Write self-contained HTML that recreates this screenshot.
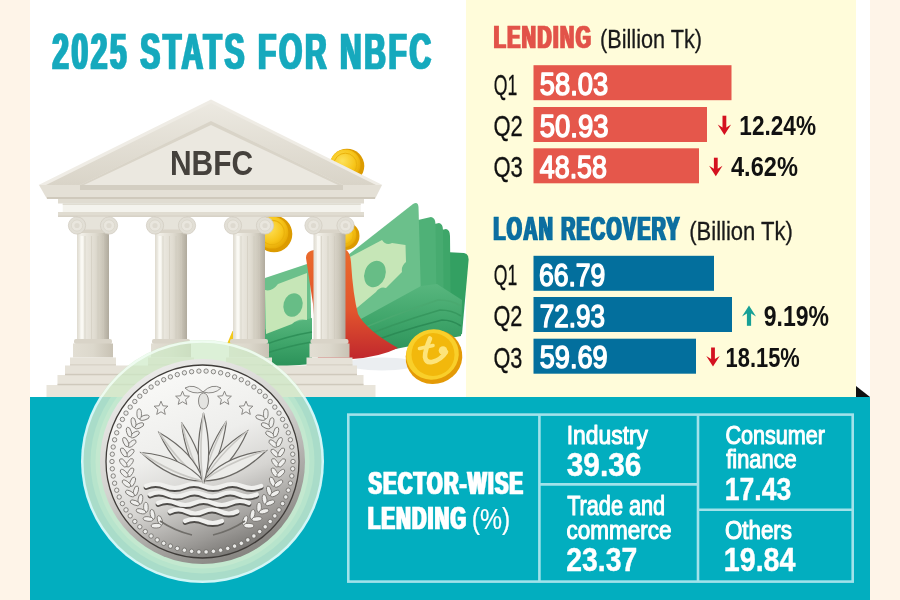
<!DOCTYPE html>
<html><head><meta charset="utf-8"><title>2025 Stats for NBFC</title>
<style>html,body{margin:0;padding:0;width:900px;height:600px;overflow:hidden;background:#fff}svg{display:block}text{font-family:"Liberation Sans",sans-serif}</style>
</head><body>
<svg width="900" height="600" viewBox="0 0 900 600">
<defs>
<linearGradient id="shaft" x1="0" x2="1" y1="0" y2="0">
 <stop offset="0" stop-color="#dedacf"/><stop offset="0.12" stop-color="#f2f0e9"/><stop offset="0.3" stop-color="#e9e6dd"/>
 <stop offset="0.55" stop-color="#e0dcd1"/><stop offset="0.78" stop-color="#cec9bc"/><stop offset="1" stop-color="#b0aa9d"/>
</linearGradient>
<linearGradient id="base" x1="0" x2="1" y1="0" y2="0">
 <stop offset="0" stop-color="#e2ded3"/><stop offset="0.5" stop-color="#dcd8cc"/><stop offset="1" stop-color="#c8c2b4"/>
</linearGradient>
<linearGradient id="rake" x1="0" x2="0" y1="0" y2="1">
 <stop offset="0" stop-color="#ece9e1"/><stop offset="1" stop-color="#d9d4c8"/>
</linearGradient>
<linearGradient id="wallet" x1="0" x2="0" y1="0" y2="1">
 <stop offset="0" stop-color="#ea6a2c"/><stop offset="0.55" stop-color="#e2552d"/><stop offset="1" stop-color="#c0272d"/>
</linearGradient>
<linearGradient id="billstack" x1="0" x2="0" y1="0" y2="1">
 <stop offset="0" stop-color="#58b67e"/><stop offset="0.5" stop-color="#3fa56a"/><stop offset="1" stop-color="#2a9058"/>
</linearGradient>
<linearGradient id="billdark" x1="0" x2="0" y1="0" y2="1">
 <stop offset="0" stop-color="#4aae72"/><stop offset="1" stop-color="#2f9459"/>
</linearGradient>
<radialGradient id="goldg" cx="0.4" cy="0.38" r="0.7">
 <stop offset="0" stop-color="#fde25a"/><stop offset="0.6" stop-color="#f7c51a"/><stop offset="1" stop-color="#e3a300"/>
</radialGradient>
<linearGradient id="coinfield" x1="0.3" x2="0.7" y1="0" y2="1">
 <stop offset="0" stop-color="#fafaf8"/><stop offset="0.4" stop-color="#eeeeec"/><stop offset="0.62" stop-color="#d6d5d2"/><stop offset="0.85" stop-color="#9b9996"/><stop offset="1" stop-color="#6f6d6a"/>
</linearGradient>
<linearGradient id="coinrim" x1="0.25" x2="0.75" y1="0" y2="1">
 <stop offset="0" stop-color="#ececea"/><stop offset="0.45" stop-color="#d3d2cf"/><stop offset="1" stop-color="#7f7d79"/>
</linearGradient>
</defs>
<rect width="900" height="600" fill="#fff"/>
<rect x="0" y="0" width="30" height="600" fill="#fef4e8"/>
<rect x="870" y="0" width="30" height="600" fill="#fef4e8"/>
<rect x="466" y="0" width="390" height="397" fill="#fffcda"/>
<polygon points="856,386 856,397 870,397" fill="#111"/>
<g><ellipse cx="382" cy="364" rx="36" ry="6.5" fill="#e6eaee" opacity="0.8"/><path d="M445,252 L464,253 Q469,254 468.6,260 L462,334 L445,340 Z" fill="#33a062"/><path d="M432,232 L446,229 Q450,230 450,236 L451,334 L432,342 Z" fill="#3ea669"/><path d="M426,226 L439,223 Q443,224 443,230 L444,334 L426,344 Z" fill="#47ab70"/><path d="M418,220 L431,217 Q435.5,218 435.5,224 L437,336 L418,346 Z" fill="#4fb177"/><path d="M348,255 L413,204 Q418,201 418.5,207 L421,298 L348,338 Z" fill="#6bc08b"/><path d="M348,326 L421,286 L437,284 L462,300 L461,336 L350,358 Z" fill="url(#billstack)"/><path d="M350,334 Q390,316 438,300 Q452,300 461,306" fill="none" stroke="#4aa970" stroke-width="1.6"/><path d="M350,342 Q392,324 440,310 Q452,310 461,316" fill="none" stroke="#37985f" stroke-width="1.6"/><path d="M350,350 Q394,332 442,320 Q452,320 461,326" fill="none" stroke="#2c8c56" stroke-width="1.6"/><path d="M348,258 L382,240 Q386,246 392,243 L405.5,245 L406,262 Q401,266 402,272 L386,288 Q380,286 376,292 L352,312 L348,312 Z" fill="#c6e6b7"/><ellipse cx="375" cy="274" rx="10.5" ry="13.5" transform="rotate(20 375 274)" fill="#67bd86"/><path d="M262,279 L310,263 L312,362 L262,368 Z" fill="#6bc08b"/><path d="M262,330 L312,318 L312,364 L262,368 Z" fill="url(#billstack)"/><path d="M264,345 Q288,336 312,332 M264,354 Q288,346 312,342" fill="none" stroke="#2f9159" stroke-width="1.5"/><path d="M265,290 Q272,292 278,284 L307,273 L307,320 Q298,318 292,324 L266,334 Z" fill="#c6e6b7"/><ellipse cx="293" cy="305" rx="9.5" ry="12" transform="rotate(15 293 305)" fill="#67bd86"/><path d="M306,258 Q306,251 314,250 L346,250 Q350,252 351,262 Q353,295 358,314 Q366,330 398,348 Q380,357 352,359 L318,359 L313,304 Z" fill="url(#wallet)"/><circle cx="347" cy="166" r="17.3" fill="#dc9b00"/><circle cx="345.3" cy="164.6" r="15.2" fill="url(#goldg)"/><circle cx="345.3" cy="164.6" r="11.4" fill="none" stroke="#eab20c" stroke-width="1.0"/><circle cx="274" cy="234" r="18.3" fill="#dc9b00"/><circle cx="272.2" cy="232.5" r="16.1" fill="url(#goldg)"/><circle cx="272.2" cy="232.5" r="12.1" fill="none" stroke="#eab20c" stroke-width="1.1"/><circle cx="345.5" cy="236" r="14" fill="#dc9b00"/><circle cx="344.1" cy="234.9" r="12.3" fill="url(#goldg)"/><circle cx="344.1" cy="234.9" r="9.2" fill="none" stroke="#eab20c" stroke-width="0.8"/><path d="M227,344 L232.5,331 Q235,331 234.5,336 L233,346 Z" fill="#f2c81a"/><polygon points="211,99.5 38.5,185 382.5,185" fill="#efece5"/><polygon points="211,103 46,185 376,185" fill="url(#rake)"/><polygon points="211,121 80,185 343,185" fill="#ebe8e0"/><polygon points="211,121 80,185 84,185 211,125 338,185 343,185" fill="#d9d4c8"/><polygon points="39,185 47,199 375,199 382,185" fill="#e4e0d6"/><rect x="80" y="185" width="263" height="5" fill="#d3cec2"/><polygon points="47,197 375,197 375,199 47,199" fill="#cfc9bc"/><rect x="58" y="199" width="306" height="4.5" fill="#e0dcd1"/><rect x="62.7" y="203.5" width="298" height="8.5" fill="#f4f3ed"/><rect x="62.7" y="203.5" width="298" height="1.2" fill="#d8d3c7"/><rect x="58" y="212" width="306" height="4.7" fill="#e0dcd1"/><rect x="58" y="215.7" width="306" height="1" fill="#cfc9bc"/><rect x="77" y="230" width="32" height="114" fill="url(#shaft)"/><rect x="80.5" y="236" width="3" height="104" fill="#fbfaf6" opacity="0.85"/><rect x="84.5" y="236" width="1" height="104" fill="#cdc8bb" opacity="0.55"/><rect x="91" y="236" width="1" height="104" fill="#cdc8bb" opacity="0.55"/><rect x="97.5" y="236" width="1" height="104" fill="#cdc8bb" opacity="0.55"/><rect x="103" y="236" width="1" height="104" fill="#cdc8bb" opacity="0.55"/><rect x="74" y="339" width="38" height="5" rx="2" fill="#d9d4c8"/><rect x="73" y="343.5" width="40" height="14" fill="url(#base)"/><rect x="70" y="357.5" width="46" height="8" fill="#e6e2d8"/><rect x="70" y="364.5" width="46" height="1.2" fill="#cdc7ba"/><rect x="76" y="216.7" width="34" height="15.5" rx="2" fill="#e6e3da"/><rect x="77" y="229.5" width="32" height="3.5" fill="#d9d4c8"/><circle cx="77" cy="225.5" r="8.6" fill="#e2dfd6" stroke="#d2cdc1" stroke-width="0.8"/><circle cx="77" cy="225.5" r="5.6" fill="#e9e6de" stroke="#d8d4c9" stroke-width="0.7"/><circle cx="77" cy="225.5" r="2.6" fill="#dedad0"/><circle cx="109" cy="225.5" r="8.6" fill="#e2dfd6" stroke="#d2cdc1" stroke-width="0.8"/><circle cx="109" cy="225.5" r="5.6" fill="#e9e6de" stroke="#d8d4c9" stroke-width="0.7"/><circle cx="109" cy="225.5" r="2.6" fill="#dedad0"/><rect x="155" y="230" width="32" height="114" fill="url(#shaft)"/><rect x="158.5" y="236" width="3" height="104" fill="#fbfaf6" opacity="0.85"/><rect x="162.5" y="236" width="1" height="104" fill="#cdc8bb" opacity="0.55"/><rect x="169" y="236" width="1" height="104" fill="#cdc8bb" opacity="0.55"/><rect x="175.5" y="236" width="1" height="104" fill="#cdc8bb" opacity="0.55"/><rect x="181" y="236" width="1" height="104" fill="#cdc8bb" opacity="0.55"/><rect x="152" y="339" width="38" height="5" rx="2" fill="#d9d4c8"/><rect x="151" y="343.5" width="40" height="14" fill="url(#base)"/><rect x="148" y="357.5" width="46" height="8" fill="#e6e2d8"/><rect x="148" y="364.5" width="46" height="1.2" fill="#cdc7ba"/><rect x="154" y="216.7" width="34" height="15.5" rx="2" fill="#e6e3da"/><rect x="155" y="229.5" width="32" height="3.5" fill="#d9d4c8"/><circle cx="155" cy="225.5" r="8.6" fill="#e2dfd6" stroke="#d2cdc1" stroke-width="0.8"/><circle cx="155" cy="225.5" r="5.6" fill="#e9e6de" stroke="#d8d4c9" stroke-width="0.7"/><circle cx="155" cy="225.5" r="2.6" fill="#dedad0"/><circle cx="187" cy="225.5" r="8.6" fill="#e2dfd6" stroke="#d2cdc1" stroke-width="0.8"/><circle cx="187" cy="225.5" r="5.6" fill="#e9e6de" stroke="#d8d4c9" stroke-width="0.7"/><circle cx="187" cy="225.5" r="2.6" fill="#dedad0"/><rect x="233" y="230" width="32" height="114" fill="url(#shaft)"/><rect x="236.5" y="236" width="3" height="104" fill="#fbfaf6" opacity="0.85"/><rect x="240.5" y="236" width="1" height="104" fill="#cdc8bb" opacity="0.55"/><rect x="247" y="236" width="1" height="104" fill="#cdc8bb" opacity="0.55"/><rect x="253.5" y="236" width="1" height="104" fill="#cdc8bb" opacity="0.55"/><rect x="259" y="236" width="1" height="104" fill="#cdc8bb" opacity="0.55"/><rect x="230" y="339" width="38" height="5" rx="2" fill="#d9d4c8"/><rect x="229" y="343.5" width="40" height="14" fill="url(#base)"/><rect x="226" y="357.5" width="46" height="8" fill="#e6e2d8"/><rect x="226" y="364.5" width="46" height="1.2" fill="#cdc7ba"/><rect x="232" y="216.7" width="34" height="15.5" rx="2" fill="#e6e3da"/><rect x="233" y="229.5" width="32" height="3.5" fill="#d9d4c8"/><circle cx="233" cy="225.5" r="8.6" fill="#e2dfd6" stroke="#d2cdc1" stroke-width="0.8"/><circle cx="233" cy="225.5" r="5.6" fill="#e9e6de" stroke="#d8d4c9" stroke-width="0.7"/><circle cx="233" cy="225.5" r="2.6" fill="#dedad0"/><circle cx="265" cy="225.5" r="8.6" fill="#e2dfd6" stroke="#d2cdc1" stroke-width="0.8"/><circle cx="265" cy="225.5" r="5.6" fill="#e9e6de" stroke="#d8d4c9" stroke-width="0.7"/><circle cx="265" cy="225.5" r="2.6" fill="#dedad0"/><rect x="313.5" y="230" width="32" height="114" fill="url(#shaft)"/><rect x="317.0" y="236" width="3" height="104" fill="#fbfaf6" opacity="0.85"/><rect x="321.0" y="236" width="1" height="104" fill="#cdc8bb" opacity="0.55"/><rect x="327.5" y="236" width="1" height="104" fill="#cdc8bb" opacity="0.55"/><rect x="334.0" y="236" width="1" height="104" fill="#cdc8bb" opacity="0.55"/><rect x="339.5" y="236" width="1" height="104" fill="#cdc8bb" opacity="0.55"/><rect x="310.5" y="339" width="38" height="5" rx="2" fill="#d9d4c8"/><rect x="309.5" y="343.5" width="40" height="14" fill="url(#base)"/><rect x="306.5" y="357.5" width="46" height="8" fill="#e6e2d8"/><rect x="306.5" y="364.5" width="46" height="1.2" fill="#cdc7ba"/><rect x="312.5" y="216.7" width="34" height="15.5" rx="2" fill="#e6e3da"/><rect x="313.5" y="229.5" width="32" height="3.5" fill="#d9d4c8"/><circle cx="313.5" cy="225.5" r="8.6" fill="#e2dfd6" stroke="#d2cdc1" stroke-width="0.8"/><circle cx="313.5" cy="225.5" r="5.6" fill="#e9e6de" stroke="#d8d4c9" stroke-width="0.7"/><circle cx="313.5" cy="225.5" r="2.6" fill="#dedad0"/><circle cx="345.5" cy="225.5" r="8.6" fill="#e2dfd6" stroke="#d2cdc1" stroke-width="0.8"/><circle cx="345.5" cy="225.5" r="5.6" fill="#e9e6de" stroke="#d8d4c9" stroke-width="0.7"/><circle cx="345.5" cy="225.5" r="2.6" fill="#dedad0"/><rect x="65" y="365.5" width="292" height="10" fill="#e6e2d8"/><rect x="57.5" y="375" width="306" height="10.5" fill="#e8e4da"/><rect x="46.5" y="385" width="329" height="12" fill="#e9e5db"/><rect x="65" y="373.8" width="292" height="1.5" fill="#cfc9bc"/><rect x="57.5" y="383.8" width="306" height="1.5" fill="#cfc9bc"/><ellipse cx="434" cy="357" rx="28.5" ry="26.8" transform="rotate(-20 434 357)" fill="#e49a06"/><ellipse cx="432.5" cy="354.5" rx="26.5" ry="25" transform="rotate(-20 432.5 354.5)" fill="#f9cf2a"/><circle cx="433" cy="354.5" r="21.5" fill="#f2b80c"/><path d="M430,338.5 Q425,350 425,357 Q426,363 432,362 Q441,360 446,352" fill="none" stroke="#fde47a" stroke-width="4.6" stroke-linecap="round"/><circle cx="443" cy="350.5" r="4.3" fill="#fde47a"/><path d="M419.5,348.5 L433,345.5" stroke="#fde47a" stroke-width="3.6" stroke-linecap="round"/></g>
<rect x="30" y="397" width="840" height="203" fill="#02aebf"/>
<g><clipPath id="ctop"><rect x="0" y="0" width="900" height="397"/></clipPath><clipPath id="cbot"><rect x="0" y="397" width="900" height="203"/></clipPath><g clip-path="url(#ctop)"><circle cx="202.5" cy="461.5" r="121.5" fill="#cdeac6" fill-opacity="0.7"/><circle cx="202.5" cy="461.5" r="120" fill="none" stroke="#f4fff8" stroke-width="2.5" stroke-opacity="0.8"/></g><g clip-path="url(#cbot)"><circle cx="202.5" cy="461.5" r="121.5" fill="#d2f6f6"/><circle cx="202.5" cy="461.5" r="119" fill="#a9dcc9"/><circle cx="202.5" cy="461.5" r="112" fill="#b7e4cc"/><circle cx="202.5" cy="461.5" r="107" fill="#c3e8cf"/></g><circle cx="202.5" cy="461.5" r="102.5" fill="url(#coinrim)"/><circle cx="202.5" cy="461.5" r="96.5" fill="url(#coinfield)" stroke="#3f3c39" stroke-width="1.3"/><circle cx="293.0" cy="461.5" r="2.2" fill="#ebebe9" stroke="#5f5d59" stroke-width="0.7"/><circle cx="292.7" cy="468.8" r="2.2" fill="#ebebe9" stroke="#5f5d59" stroke-width="0.7"/><circle cx="291.8" cy="476.0" r="2.2" fill="#ebebe9" stroke="#5f5d59" stroke-width="0.7"/><circle cx="290.4" cy="483.2" r="2.2" fill="#ebebe9" stroke="#5f5d59" stroke-width="0.7"/><circle cx="288.3" cy="490.2" r="2.2" fill="#ebebe9" stroke="#5f5d59" stroke-width="0.7"/><circle cx="285.8" cy="497.0" r="2.2" fill="#ebebe9" stroke="#5f5d59" stroke-width="0.7"/><circle cx="282.6" cy="503.6" r="2.2" fill="#ebebe9" stroke="#5f5d59" stroke-width="0.7"/><circle cx="279.0" cy="509.9" r="2.2" fill="#ebebe9" stroke="#5f5d59" stroke-width="0.7"/><circle cx="274.8" cy="515.9" r="2.2" fill="#ebebe9" stroke="#5f5d59" stroke-width="0.7"/><circle cx="270.2" cy="521.5" r="2.2" fill="#ebebe9" stroke="#5f5d59" stroke-width="0.7"/><circle cx="265.2" cy="526.8" r="2.2" fill="#ebebe9" stroke="#5f5d59" stroke-width="0.7"/><circle cx="259.7" cy="531.6" r="2.2" fill="#ebebe9" stroke="#5f5d59" stroke-width="0.7"/><circle cx="253.9" cy="536.0" r="2.2" fill="#ebebe9" stroke="#5f5d59" stroke-width="0.7"/><circle cx="247.8" cy="539.9" r="2.2" fill="#ebebe9" stroke="#5f5d59" stroke-width="0.7"/><circle cx="241.3" cy="543.3" r="2.2" fill="#ebebe9" stroke="#5f5d59" stroke-width="0.7"/><circle cx="234.6" cy="546.1" r="2.2" fill="#ebebe9" stroke="#5f5d59" stroke-width="0.7"/><circle cx="227.7" cy="548.4" r="2.2" fill="#ebebe9" stroke="#5f5d59" stroke-width="0.7"/><circle cx="220.6" cy="550.2" r="2.2" fill="#ebebe9" stroke="#5f5d59" stroke-width="0.7"/><circle cx="213.4" cy="551.3" r="2.2" fill="#ebebe9" stroke="#5f5d59" stroke-width="0.7"/><circle cx="206.1" cy="551.9" r="2.2" fill="#ebebe9" stroke="#5f5d59" stroke-width="0.7"/><circle cx="198.9" cy="551.9" r="2.2" fill="#ebebe9" stroke="#5f5d59" stroke-width="0.7"/><circle cx="191.6" cy="551.3" r="2.2" fill="#ebebe9" stroke="#5f5d59" stroke-width="0.7"/><circle cx="184.4" cy="550.2" r="2.2" fill="#ebebe9" stroke="#5f5d59" stroke-width="0.7"/><circle cx="177.3" cy="548.4" r="2.2" fill="#ebebe9" stroke="#5f5d59" stroke-width="0.7"/><circle cx="170.4" cy="546.1" r="2.2" fill="#ebebe9" stroke="#5f5d59" stroke-width="0.7"/><circle cx="163.7" cy="543.3" r="2.2" fill="#ebebe9" stroke="#5f5d59" stroke-width="0.7"/><circle cx="157.2" cy="539.9" r="2.2" fill="#ebebe9" stroke="#5f5d59" stroke-width="0.7"/><circle cx="151.1" cy="536.0" r="2.2" fill="#ebebe9" stroke="#5f5d59" stroke-width="0.7"/><circle cx="145.3" cy="531.6" r="2.2" fill="#ebebe9" stroke="#5f5d59" stroke-width="0.7"/><circle cx="139.8" cy="526.8" r="2.2" fill="#ebebe9" stroke="#5f5d59" stroke-width="0.7"/><circle cx="134.8" cy="521.5" r="2.2" fill="#ebebe9" stroke="#5f5d59" stroke-width="0.7"/><circle cx="130.2" cy="515.9" r="2.2" fill="#ebebe9" stroke="#5f5d59" stroke-width="0.7"/><circle cx="126.0" cy="509.9" r="2.2" fill="#ebebe9" stroke="#5f5d59" stroke-width="0.7"/><circle cx="122.4" cy="503.6" r="2.2" fill="#ebebe9" stroke="#5f5d59" stroke-width="0.7"/><circle cx="119.2" cy="497.0" r="2.2" fill="#ebebe9" stroke="#5f5d59" stroke-width="0.7"/><circle cx="116.7" cy="490.2" r="2.2" fill="#ebebe9" stroke="#5f5d59" stroke-width="0.7"/><circle cx="114.6" cy="483.2" r="2.2" fill="#ebebe9" stroke="#5f5d59" stroke-width="0.7"/><circle cx="113.2" cy="476.0" r="2.2" fill="#ebebe9" stroke="#5f5d59" stroke-width="0.7"/><circle cx="112.3" cy="468.8" r="2.2" fill="#ebebe9" stroke="#5f5d59" stroke-width="0.7"/><circle cx="112.0" cy="461.5" r="2.2" fill="#ebebe9" stroke="#5f5d59" stroke-width="0.7"/><circle cx="112.3" cy="454.2" r="2.2" fill="#ebebe9" stroke="#5f5d59" stroke-width="0.7"/><circle cx="113.2" cy="447.0" r="2.2" fill="#ebebe9" stroke="#5f5d59" stroke-width="0.7"/><circle cx="114.6" cy="439.8" r="2.2" fill="#ebebe9" stroke="#5f5d59" stroke-width="0.7"/><circle cx="116.7" cy="432.8" r="2.2" fill="#ebebe9" stroke="#5f5d59" stroke-width="0.7"/><circle cx="119.2" cy="426.0" r="2.2" fill="#ebebe9" stroke="#5f5d59" stroke-width="0.7"/><circle cx="122.4" cy="419.4" r="2.2" fill="#ebebe9" stroke="#5f5d59" stroke-width="0.7"/><circle cx="126.0" cy="413.1" r="2.2" fill="#ebebe9" stroke="#5f5d59" stroke-width="0.7"/><circle cx="130.2" cy="407.1" r="2.2" fill="#ebebe9" stroke="#5f5d59" stroke-width="0.7"/><circle cx="134.8" cy="401.5" r="2.2" fill="#ebebe9" stroke="#5f5d59" stroke-width="0.7"/><circle cx="139.8" cy="396.2" r="2.2" fill="#ebebe9" stroke="#5f5d59" stroke-width="0.7"/><circle cx="145.3" cy="391.4" r="2.2" fill="#ebebe9" stroke="#5f5d59" stroke-width="0.7"/><circle cx="151.1" cy="387.0" r="2.2" fill="#ebebe9" stroke="#5f5d59" stroke-width="0.7"/><circle cx="157.3" cy="383.1" r="2.2" fill="#ebebe9" stroke="#5f5d59" stroke-width="0.7"/><circle cx="163.7" cy="379.7" r="2.2" fill="#ebebe9" stroke="#5f5d59" stroke-width="0.7"/><circle cx="170.4" cy="376.9" r="2.2" fill="#ebebe9" stroke="#5f5d59" stroke-width="0.7"/><circle cx="177.3" cy="374.6" r="2.2" fill="#ebebe9" stroke="#5f5d59" stroke-width="0.7"/><circle cx="184.4" cy="372.8" r="2.2" fill="#ebebe9" stroke="#5f5d59" stroke-width="0.7"/><circle cx="191.6" cy="371.7" r="2.2" fill="#ebebe9" stroke="#5f5d59" stroke-width="0.7"/><circle cx="198.9" cy="371.1" r="2.2" fill="#ebebe9" stroke="#5f5d59" stroke-width="0.7"/><circle cx="206.1" cy="371.1" r="2.2" fill="#ebebe9" stroke="#5f5d59" stroke-width="0.7"/><circle cx="213.4" cy="371.7" r="2.2" fill="#ebebe9" stroke="#5f5d59" stroke-width="0.7"/><circle cx="220.6" cy="372.8" r="2.2" fill="#ebebe9" stroke="#5f5d59" stroke-width="0.7"/><circle cx="227.7" cy="374.6" r="2.2" fill="#ebebe9" stroke="#5f5d59" stroke-width="0.7"/><circle cx="234.6" cy="376.9" r="2.2" fill="#ebebe9" stroke="#5f5d59" stroke-width="0.7"/><circle cx="241.3" cy="379.7" r="2.2" fill="#ebebe9" stroke="#5f5d59" stroke-width="0.7"/><circle cx="247.7" cy="383.1" r="2.2" fill="#ebebe9" stroke="#5f5d59" stroke-width="0.7"/><circle cx="253.9" cy="387.0" r="2.2" fill="#ebebe9" stroke="#5f5d59" stroke-width="0.7"/><circle cx="259.7" cy="391.4" r="2.2" fill="#ebebe9" stroke="#5f5d59" stroke-width="0.7"/><circle cx="265.2" cy="396.2" r="2.2" fill="#ebebe9" stroke="#5f5d59" stroke-width="0.7"/><circle cx="270.2" cy="401.5" r="2.2" fill="#ebebe9" stroke="#5f5d59" stroke-width="0.7"/><circle cx="274.8" cy="407.1" r="2.2" fill="#ebebe9" stroke="#5f5d59" stroke-width="0.7"/><circle cx="279.0" cy="413.1" r="2.2" fill="#ebebe9" stroke="#5f5d59" stroke-width="0.7"/><circle cx="282.6" cy="419.4" r="2.2" fill="#ebebe9" stroke="#5f5d59" stroke-width="0.7"/><circle cx="285.8" cy="426.0" r="2.2" fill="#ebebe9" stroke="#5f5d59" stroke-width="0.7"/><circle cx="288.3" cy="432.8" r="2.2" fill="#ebebe9" stroke="#5f5d59" stroke-width="0.7"/><circle cx="290.4" cy="439.8" r="2.2" fill="#ebebe9" stroke="#5f5d59" stroke-width="0.7"/><circle cx="291.8" cy="447.0" r="2.2" fill="#ebebe9" stroke="#5f5d59" stroke-width="0.7"/><circle cx="292.7" cy="454.2" r="2.2" fill="#ebebe9" stroke="#5f5d59" stroke-width="0.7"/><ellipse cx="144.4" cy="417.7" rx="2.3" ry="5" transform="rotate(435 144.4 417.7)" fill="#efefed" stroke="#6f6d69" stroke-width="0.8"/><ellipse cx="139.2" cy="413.8" rx="2.3" ry="5" transform="rotate(359 139.2 413.8)" fill="#efefed" stroke="#6f6d69" stroke-width="0.8"/><ellipse cx="139.1" cy="425.8" rx="2.3" ry="5" transform="rotate(427 139.1 425.8)" fill="#efefed" stroke="#6f6d69" stroke-width="0.8"/><ellipse cx="133.5" cy="422.6" rx="2.3" ry="5" transform="rotate(351 133.5 422.6)" fill="#efefed" stroke="#6f6d69" stroke-width="0.8"/><ellipse cx="134.9" cy="434.5" rx="2.3" ry="5" transform="rotate(420 134.9 434.5)" fill="#efefed" stroke="#6f6d69" stroke-width="0.8"/><ellipse cx="129.0" cy="432.1" rx="2.3" ry="5" transform="rotate(344 129.0 432.1)" fill="#efefed" stroke="#6f6d69" stroke-width="0.8"/><ellipse cx="131.9" cy="443.6" rx="2.3" ry="5" transform="rotate(412 131.9 443.6)" fill="#efefed" stroke="#6f6d69" stroke-width="0.8"/><ellipse cx="125.7" cy="442.1" rx="2.3" ry="5" transform="rotate(336 125.7 442.1)" fill="#efefed" stroke="#6f6d69" stroke-width="0.8"/><ellipse cx="130.2" cy="453.1" rx="2.3" ry="5" transform="rotate(405 130.2 453.1)" fill="#efefed" stroke="#6f6d69" stroke-width="0.8"/><ellipse cx="123.8" cy="452.4" rx="2.3" ry="5" transform="rotate(329 123.8 452.4)" fill="#efefed" stroke="#6f6d69" stroke-width="0.8"/><ellipse cx="129.7" cy="462.8" rx="2.3" ry="5" transform="rotate(397 129.7 462.8)" fill="#efefed" stroke="#6f6d69" stroke-width="0.8"/><ellipse cx="123.3" cy="462.9" rx="2.3" ry="5" transform="rotate(321 123.3 462.9)" fill="#efefed" stroke="#6f6d69" stroke-width="0.8"/><ellipse cx="130.5" cy="472.4" rx="2.3" ry="5" transform="rotate(389 130.5 472.4)" fill="#efefed" stroke="#6f6d69" stroke-width="0.8"/><ellipse cx="124.2" cy="473.3" rx="2.3" ry="5" transform="rotate(313 124.2 473.3)" fill="#efefed" stroke="#6f6d69" stroke-width="0.8"/><ellipse cx="132.6" cy="481.8" rx="2.3" ry="5" transform="rotate(382 132.6 481.8)" fill="#efefed" stroke="#6f6d69" stroke-width="0.8"/><ellipse cx="126.4" cy="483.6" rx="2.3" ry="5" transform="rotate(306 126.4 483.6)" fill="#efefed" stroke="#6f6d69" stroke-width="0.8"/><ellipse cx="135.9" cy="490.9" rx="2.3" ry="5" transform="rotate(374 135.9 490.9)" fill="#efefed" stroke="#6f6d69" stroke-width="0.8"/><ellipse cx="130.0" cy="493.5" rx="2.3" ry="5" transform="rotate(298 130.0 493.5)" fill="#efefed" stroke="#6f6d69" stroke-width="0.8"/><ellipse cx="140.4" cy="499.4" rx="2.3" ry="5" transform="rotate(367 140.4 499.4)" fill="#efefed" stroke="#6f6d69" stroke-width="0.8"/><ellipse cx="134.9" cy="502.8" rx="2.3" ry="5" transform="rotate(291 134.9 502.8)" fill="#efefed" stroke="#6f6d69" stroke-width="0.8"/><ellipse cx="145.9" cy="507.3" rx="2.3" ry="5" transform="rotate(359 145.9 507.3)" fill="#efefed" stroke="#6f6d69" stroke-width="0.8"/><ellipse cx="141.0" cy="511.3" rx="2.3" ry="5" transform="rotate(283 141.0 511.3)" fill="#efefed" stroke="#6f6d69" stroke-width="0.8"/><ellipse cx="152.5" cy="514.4" rx="2.3" ry="5" transform="rotate(351 152.5 514.4)" fill="#efefed" stroke="#6f6d69" stroke-width="0.8"/><ellipse cx="148.1" cy="519.0" rx="2.3" ry="5" transform="rotate(275 148.1 519.0)" fill="#efefed" stroke="#6f6d69" stroke-width="0.8"/><ellipse cx="159.9" cy="520.5" rx="2.3" ry="5" transform="rotate(344 159.9 520.5)" fill="#efefed" stroke="#6f6d69" stroke-width="0.8"/><ellipse cx="156.2" cy="525.7" rx="2.3" ry="5" transform="rotate(268 156.2 525.7)" fill="#efefed" stroke="#6f6d69" stroke-width="0.8"/><ellipse cx="260.6" cy="417.7" rx="2.3" ry="5" transform="rotate(-75 260.6 417.7)" fill="#efefed" stroke="#6f6d69" stroke-width="0.8"/><ellipse cx="265.8" cy="413.8" rx="2.3" ry="5" transform="rotate(1 265.8 413.8)" fill="#efefed" stroke="#6f6d69" stroke-width="0.8"/><ellipse cx="265.9" cy="425.8" rx="2.3" ry="5" transform="rotate(-67 265.9 425.8)" fill="#efefed" stroke="#6f6d69" stroke-width="0.8"/><ellipse cx="271.5" cy="422.6" rx="2.3" ry="5" transform="rotate(9 271.5 422.6)" fill="#efefed" stroke="#6f6d69" stroke-width="0.8"/><ellipse cx="270.1" cy="434.5" rx="2.3" ry="5" transform="rotate(-60 270.1 434.5)" fill="#efefed" stroke="#6f6d69" stroke-width="0.8"/><ellipse cx="276.0" cy="432.1" rx="2.3" ry="5" transform="rotate(16 276.0 432.1)" fill="#efefed" stroke="#6f6d69" stroke-width="0.8"/><ellipse cx="273.1" cy="443.6" rx="2.3" ry="5" transform="rotate(-52 273.1 443.6)" fill="#efefed" stroke="#6f6d69" stroke-width="0.8"/><ellipse cx="279.3" cy="442.1" rx="2.3" ry="5" transform="rotate(24 279.3 442.1)" fill="#efefed" stroke="#6f6d69" stroke-width="0.8"/><ellipse cx="274.8" cy="453.1" rx="2.3" ry="5" transform="rotate(-45 274.8 453.1)" fill="#efefed" stroke="#6f6d69" stroke-width="0.8"/><ellipse cx="281.2" cy="452.4" rx="2.3" ry="5" transform="rotate(31 281.2 452.4)" fill="#efefed" stroke="#6f6d69" stroke-width="0.8"/><ellipse cx="275.3" cy="462.8" rx="2.3" ry="5" transform="rotate(-37 275.3 462.8)" fill="#efefed" stroke="#6f6d69" stroke-width="0.8"/><ellipse cx="281.7" cy="462.9" rx="2.3" ry="5" transform="rotate(39 281.7 462.9)" fill="#efefed" stroke="#6f6d69" stroke-width="0.8"/><ellipse cx="274.5" cy="472.4" rx="2.3" ry="5" transform="rotate(-29 274.5 472.4)" fill="#efefed" stroke="#6f6d69" stroke-width="0.8"/><ellipse cx="280.8" cy="473.3" rx="2.3" ry="5" transform="rotate(47 280.8 473.3)" fill="#efefed" stroke="#6f6d69" stroke-width="0.8"/><ellipse cx="272.4" cy="481.8" rx="2.3" ry="5" transform="rotate(-22 272.4 481.8)" fill="#efefed" stroke="#6f6d69" stroke-width="0.8"/><ellipse cx="278.6" cy="483.6" rx="2.3" ry="5" transform="rotate(54 278.6 483.6)" fill="#efefed" stroke="#6f6d69" stroke-width="0.8"/><ellipse cx="269.1" cy="490.9" rx="2.3" ry="5" transform="rotate(-14 269.1 490.9)" fill="#efefed" stroke="#6f6d69" stroke-width="0.8"/><ellipse cx="275.0" cy="493.5" rx="2.3" ry="5" transform="rotate(62 275.0 493.5)" fill="#efefed" stroke="#6f6d69" stroke-width="0.8"/><ellipse cx="264.6" cy="499.4" rx="2.3" ry="5" transform="rotate(-7 264.6 499.4)" fill="#efefed" stroke="#6f6d69" stroke-width="0.8"/><ellipse cx="270.1" cy="502.8" rx="2.3" ry="5" transform="rotate(69 270.1 502.8)" fill="#efefed" stroke="#6f6d69" stroke-width="0.8"/><ellipse cx="259.1" cy="507.3" rx="2.3" ry="5" transform="rotate(1 259.1 507.3)" fill="#efefed" stroke="#6f6d69" stroke-width="0.8"/><ellipse cx="264.0" cy="511.3" rx="2.3" ry="5" transform="rotate(77 264.0 511.3)" fill="#efefed" stroke="#6f6d69" stroke-width="0.8"/><ellipse cx="252.5" cy="514.4" rx="2.3" ry="5" transform="rotate(9 252.5 514.4)" fill="#efefed" stroke="#6f6d69" stroke-width="0.8"/><ellipse cx="256.9" cy="519.0" rx="2.3" ry="5" transform="rotate(85 256.9 519.0)" fill="#efefed" stroke="#6f6d69" stroke-width="0.8"/><ellipse cx="245.1" cy="520.5" rx="2.3" ry="5" transform="rotate(16 245.1 520.5)" fill="#efefed" stroke="#6f6d69" stroke-width="0.8"/><ellipse cx="248.8" cy="525.7" rx="2.3" ry="5" transform="rotate(92 248.8 525.7)" fill="#efefed" stroke="#6f6d69" stroke-width="0.8"/><path d="M160,521 Q175,531 192,535" fill="none" stroke="#6f6d69" stroke-width="1.6"/><path d="M245,521 Q230,531 213,535" fill="none" stroke="#6f6d69" stroke-width="1.6"/><polygon points="161.0,401.2 162.9,405.8 167.9,406.2 164.1,409.5 165.3,414.4 161.0,411.8 156.7,414.4 157.9,409.5 154.1,406.2 159.1,405.8" fill="#f2f2f0" stroke="#7f7d79" stroke-width="0.9" stroke-linejoin="round"/><polygon points="182.5,391.2 184.4,395.8 189.4,396.2 185.6,399.5 186.8,404.4 182.5,401.8 178.2,404.4 179.4,399.5 175.6,396.2 180.6,395.8" fill="#f2f2f0" stroke="#7f7d79" stroke-width="0.9" stroke-linejoin="round"/><polygon points="224.5,391.2 226.4,395.8 231.4,396.2 227.6,399.5 228.8,404.4 224.5,401.8 220.2,404.4 221.4,399.5 217.6,396.2 222.6,395.8" fill="#f2f2f0" stroke="#7f7d79" stroke-width="0.9" stroke-linejoin="round"/><polygon points="246.0,401.2 247.9,405.8 252.9,406.2 249.1,409.5 250.3,414.4 246.0,411.8 241.7,414.4 242.9,409.5 239.1,406.2 244.1,405.8" fill="#f2f2f0" stroke="#7f7d79" stroke-width="0.9" stroke-linejoin="round"/><path d="M203,392 q-9,-9 -18,-4 q7,7 18,4 Z M203,392 q9,-9 18,-4 q-7,7 -18,4 Z" fill="#eeeeec" stroke="#7f7d79" stroke-width="0.9"/><ellipse cx="203.5" cy="401" rx="5" ry="8" fill="#e4e4e1" stroke="#7f7d79" stroke-width="0.9"/><path d="M203.5,481.0 Q202.8,453.2 181.5,422.5 Q185.7,459.6 203.5,481.0 Z" fill="#ecece9" stroke="#6a6864" stroke-width="1.2"/><path d="M203.5,481.0 Q190.0,458.0 181.5,422.5" fill="none" stroke="#c9c8c4" stroke-width="1.6"/><path d="M203.5,481.0 Q221.7,459.1 226.5,421.0 Q204.7,452.5 203.5,481.0 Z" fill="#ecece9" stroke="#6a6864" stroke-width="1.2"/><path d="M203.5,481.0 Q208.9,454.2 226.5,421.0" fill="none" stroke="#c9c8c4" stroke-width="1.6"/><path d="M203.5,481.0 Q193.9,452.3 159.0,432.5 Q175.7,469.0 203.5,481.0 Z" fill="#ecece9" stroke="#6a6864" stroke-width="1.2"/><path d="M203.5,481.0 Q180.3,464.8 159.0,432.5" fill="none" stroke="#c9c8c4" stroke-width="1.6"/><path d="M203.5,481.0 Q231.3,468.2 247.5,431.0 Q212.7,451.8 203.5,481.0 Z" fill="#ecece9" stroke="#6a6864" stroke-width="1.2"/><path d="M203.5,481.0 Q217.3,455.9 247.5,431.0" fill="none" stroke="#c9c8c4" stroke-width="1.6"/><path d="M203.5,481.0 Q182.9,456.6 141.0,452.5 Q171.6,481.4 203.5,481.0 Z" fill="#ecece9" stroke="#6a6864" stroke-width="1.2"/><path d="M203.5,481.0 Q174.4,475.2 141.0,452.5" fill="none" stroke="#c9c8c4" stroke-width="1.6"/><path d="M203.5,481.0 Q235.9,480.5 266.5,450.5 Q224.0,455.9 203.5,481.0 Z" fill="#ecece9" stroke="#6a6864" stroke-width="1.2"/><path d="M203.5,481.0 Q227.0,462.0 266.5,450.5" fill="none" stroke="#c9c8c4" stroke-width="1.6"/><path d="M203.5,484.0 Q213.9,454.2 203.5,413.0 Q193.1,454.2 203.5,484.0 Z" fill="#f0f0ee" stroke="#6a6864" stroke-width="1.2"/><path d="M203.5,484.0 Q198.3,454.2 203.5,413.0" fill="none" stroke="#c9c8c4" stroke-width="1.6"/><path d="M146.0,486.0 q9.6,-4.0 19.2,0 q9.6,4.0 19.2,0 q9.6,-4.0 19.2,0 q9.6,4.0 19.2,0 q9.6,-4.0 19.2,0 q9.6,4.0 19.2,0" fill="none" stroke="#4f4d4a" stroke-width="4.6" stroke-linecap="round" transform="translate(0,1.6)"/><path d="M146.0,486.0 q9.6,-4.0 19.2,0 q9.6,4.0 19.2,0 q9.6,-4.0 19.2,0 q9.6,4.0 19.2,0 q9.6,-4.0 19.2,0 q9.6,4.0 19.2,0" fill="none" stroke="#f0f0ee" stroke-width="4.2" stroke-linecap="round"/><path d="M150.0,494.5 q8.9,-4.0 17.8,0 q8.9,4.0 17.8,0 q8.9,-4.0 17.8,0 q8.9,4.0 17.8,0 q8.9,-4.0 17.8,0 q8.9,4.0 17.8,0" fill="none" stroke="#4f4d4a" stroke-width="4.6" stroke-linecap="round" transform="translate(0,1.6)"/><path d="M150.0,494.5 q8.9,-4.0 17.8,0 q8.9,4.0 17.8,0 q8.9,-4.0 17.8,0 q8.9,4.0 17.8,0 q8.9,-4.0 17.8,0 q8.9,4.0 17.8,0" fill="none" stroke="#f0f0ee" stroke-width="4.2" stroke-linecap="round"/><path d="M158.0,503.0 q9.1,-4.0 18.2,0 q9.1,4.0 18.2,0 q9.1,-4.0 18.2,0 q9.1,4.0 18.2,0 q9.1,-4.0 18.2,0" fill="none" stroke="#4f4d4a" stroke-width="4.6" stroke-linecap="round" transform="translate(0,1.6)"/><path d="M158.0,503.0 q9.1,-4.0 18.2,0 q9.1,4.0 18.2,0 q9.1,-4.0 18.2,0 q9.1,4.0 18.2,0 q9.1,-4.0 18.2,0" fill="none" stroke="#f0f0ee" stroke-width="4.2" stroke-linecap="round"/><path d="M170.0,511.5 q8.4,-4.0 16.8,0 q8.4,4.0 16.8,0 q8.4,-4.0 16.8,0 q8.4,4.0 16.8,0" fill="none" stroke="#4f4d4a" stroke-width="4.6" stroke-linecap="round" transform="translate(0,1.6)"/><path d="M170.0,511.5 q8.4,-4.0 16.8,0 q8.4,4.0 16.8,0 q8.4,-4.0 16.8,0 q8.4,4.0 16.8,0" fill="none" stroke="#f0f0ee" stroke-width="4.2" stroke-linecap="round"/><path d="M185.0,521.0 q9.2,-4.0 18.5,0 q9.2,4.0 18.5,0" fill="none" stroke="#4f4d4a" stroke-width="4.6" stroke-linecap="round" transform="translate(0,1.6)"/><path d="M185.0,521.0 q9.2,-4.0 18.5,0 q9.2,4.0 18.5,0" fill="none" stroke="#f0f0ee" stroke-width="4.2" stroke-linecap="round"/></g>
<rect x="348.3" y="414.6" width="504.4" height="167" fill="none" stroke="#a2e2ea" stroke-width="2.6"/>
<line x1="539.4" y1="414.6" x2="539.4" y2="581.6" stroke="#a2e2ea" stroke-width="2.6"/>
<line x1="698" y1="414.6" x2="698" y2="581.6" stroke="#a2e2ea" stroke-width="2.6"/>
<line x1="539.4" y1="484.4" x2="698" y2="484.4" stroke="#a2e2ea" stroke-width="2.6"/>
<line x1="698" y1="509.8" x2="852.7" y2="509.8" stroke="#a2e2ea" stroke-width="2.6"/>
<rect x="533.5" y="65.2" width="198.0" height="35" fill="#e5574b"/>
<rect x="533.5" y="107" width="173.5" height="35" fill="#e5574b"/>
<rect x="533.5" y="148.3" width="165.5" height="35" fill="#e5574b"/>
<rect x="533.5" y="255.8" width="180.5" height="35" fill="#036f9d"/>
<rect x="533.5" y="297" width="198.5" height="35" fill="#036f9d"/>
<rect x="533.5" y="338.7" width="162.5" height="35" fill="#036f9d"/>
<rect x="722.5" y="115.7" width="3.8" height="13.299999999999997" fill="#d4111f"/><polygon points="717.6999999999999,124.5 722.5,127.5 726.3,127.5 731.1,124.5 724.4,135" fill="#d4111f"/>
<rect x="713.9" y="157.7" width="3.8" height="12.600000000000023" fill="#d4111f"/><polygon points="709.0999999999999,165.8 713.9,168.8 717.6999999999999,168.8 722.5,165.8 715.8,176.3" fill="#d4111f"/>
<rect x="711.1" y="347.5" width="3.8" height="13.0" fill="#d4111f"/><polygon points="706.3,356.0 711.1,359.0 714.9,359.0 719.7,356.0 713,366.5" fill="#d4111f"/>
<rect x="746.9" y="311.5" width="4.2" height="14.300000000000011" fill="#17a096"/><polygon points="742,316.5 746.9,313.5 751.1,313.5 756,316.5 749,305.5" fill="#17a096"/>
<g font-family="Liberation Sans, sans-serif">
<text transform="translate(52.22 69) scale(0.5895 1)" font-size="50.72" font-weight="bold" letter-spacing="4.5" fill="#13a9bd" stroke="#13a9bd" stroke-width="0.5" stroke-linejoin="round" filter="url(#dl1_272)">2025 STATS FOR NBFC</text>
<text transform="translate(493.7 48.3) scale(0.621 1)" font-size="31.45" font-weight="bold" letter-spacing="2.5" fill="#e2534a" stroke="#e2534a" stroke-width="0.3" stroke-linejoin="round" filter="url(#dl1_047)">LENDING</text>
<text transform="translate(600.06 48.3) scale(0.869 1)" font-size="24.93" fill="#1a1a1a" stroke="#1a1a1a" stroke-width="0.3" stroke-linejoin="round">(Billion Tk)</text>
<text transform="translate(493.69 94.5) scale(0.6032 1)" font-size="29.28" fill="#111" stroke="#111" stroke-width="0.3" stroke-linejoin="round">Q1</text>
<text transform="translate(493.39 136) scale(0.7232 1)" font-size="30.43" fill="#111" stroke="#111" stroke-width="0.3" stroke-linejoin="round">Q2</text>
<text transform="translate(493.39 177) scale(0.7232 1)" font-size="30.43" fill="#111" stroke="#111" stroke-width="0.3" stroke-linejoin="round">Q3</text>
<text transform="translate(539.78 95) scale(0.8774 1)" font-size="31.16" fill="#fff" stroke="#fff" stroke-width="1.5" stroke-linejoin="round">58.03</text>
<text transform="translate(539.78 137) scale(0.8701 1)" font-size="31.59" fill="#fff" stroke="#fff" stroke-width="1.5" stroke-linejoin="round">50.93</text>
<text transform="translate(539.79 178.3) scale(0.8497 1)" font-size="31.59" fill="#fff" stroke="#fff" stroke-width="1.5" stroke-linejoin="round">48.58</text>
<text transform="translate(739.36 135) scale(0.8209 1)" font-size="27.54" font-weight="bold" fill="#111">12.24%</text>
<text transform="translate(731.0 176.3) scale(0.88 1)" font-size="26.81" font-weight="bold" fill="#111">4.62%</text>
<text transform="translate(493.57 239.7) scale(0.5821 1)" font-size="33.33" font-weight="bold" letter-spacing="2.5" fill="#076ea0" stroke="#076ea0" stroke-width="0.3" stroke-linejoin="round" filter="url(#dl1_117)">LOAN RECOVERY</text>
<text transform="translate(689.25 239.7) scale(0.8846 1)" font-size="24.93" fill="#1a1a1a" stroke="#1a1a1a" stroke-width="0.3" stroke-linejoin="round">(Billion Tk)</text>
<text transform="translate(493.7 285) scale(0.5875 1)" font-size="30.0" fill="#111" stroke="#111" stroke-width="0.3" stroke-linejoin="round">Q1</text>
<text transform="translate(493.39 326.3) scale(0.7232 1)" font-size="30.0" fill="#111" stroke="#111" stroke-width="0.3" stroke-linejoin="round">Q2</text>
<text transform="translate(493.39 367.5) scale(0.7232 1)" font-size="30.0" fill="#111" stroke="#111" stroke-width="0.3" stroke-linejoin="round">Q3</text>
<text transform="translate(538.95 285.8) scale(0.8387 1)" font-size="31.59" fill="#fff" stroke="#fff" stroke-width="1.5" stroke-linejoin="round">66.79</text>
<text transform="translate(539.79 327) scale(0.8348 1)" font-size="31.16" fill="#fff" stroke="#fff" stroke-width="1.5" stroke-linejoin="round">72.93</text>
<text transform="translate(539.78 368.3) scale(0.871 1)" font-size="31.16" fill="#fff" stroke="#fff" stroke-width="1.5" stroke-linejoin="round">59.69</text>
<text transform="translate(763.71 325.5) scale(0.7938 1)" font-size="28.99" font-weight="bold" fill="#111">9.19%</text>
<text transform="translate(725.61 366.5) scale(0.7945 1)" font-size="27.54" font-weight="bold" fill="#111">18.15%</text>
<text transform="translate(368.57 494) scale(0.6267 1)" font-size="31.88" font-weight="bold" letter-spacing="2.2" fill="#fff" stroke="#fff" stroke-width="0.3" stroke-linejoin="round" filter="url(#dl0_957)">SECTOR-WISE</text>
<text transform="translate(367.94 529) scale(0.6269 1)" font-size="31.88" font-weight="bold" letter-spacing="2.2" fill="#fff" stroke="#fff" stroke-width="0.3" stroke-linejoin="round" filter="url(#dl0_957)">LENDING</text>
<text transform="translate(471.69 529) scale(0.8495 1)" font-size="29.13" fill="#fff" stroke="#fff" stroke-width="0.2" stroke-linejoin="round">(%)</text>
<text transform="translate(566.74 444.2) scale(0.8719 1)" font-size="26.23" fill="#fff" stroke="#fff" stroke-width="1.1" stroke-linejoin="round">Industry</text>
<text transform="translate(566.8 475.8) scale(0.8999 1)" font-size="33.12" font-weight="bold" fill="#fff" stroke="#fff" stroke-width="0.45" stroke-linejoin="round">39.36</text>
<text transform="translate(567.14 515) scale(0.792 1)" font-size="27.39" fill="#fff" stroke="#fff" stroke-width="1.1" stroke-linejoin="round">Trade and</text>
<text transform="translate(566.62 539.2) scale(0.8432 1)" font-size="26.67" fill="#fff" stroke="#fff" stroke-width="1.1" stroke-linejoin="round">commerce</text>
<text transform="translate(566.34 570.8) scale(0.8557 1)" font-size="33.12" font-weight="bold" fill="#fff" stroke="#fff" stroke-width="0.45" stroke-linejoin="round">23.37</text>
<text transform="translate(725.43 444.2) scale(0.8329 1)" font-size="25.94" fill="#fff" stroke="#fff" stroke-width="1.1" stroke-linejoin="round">Consumer</text>
<text transform="translate(726.26 468.3) scale(0.843 1)" font-size="25.94" fill="#fff" stroke="#fff" stroke-width="1.1" stroke-linejoin="round">finance</text>
<text transform="translate(724.84 499.7) scale(0.8222 1)" font-size="32.25" font-weight="bold" fill="#fff" stroke="#fff" stroke-width="0.45" stroke-linejoin="round">17.43</text>
<text transform="translate(724.91 538.7) scale(0.8612 1)" font-size="25.94" fill="#fff" stroke="#fff" stroke-width="1.1" stroke-linejoin="round">Others</text>
<text transform="translate(723.76 570.8) scale(0.8656 1)" font-size="33.12" font-weight="bold" fill="#fff" stroke="#fff" stroke-width="0.45" stroke-linejoin="round">19.84</text>
<text transform="translate(169.95 174.7) scale(0.8761 1)" font-size="34.2" font-weight="bold" fill="#45413c" filter="url(#dl0_457)">NBFC</text>
</g>
<defs><filter id="dl1_272" x="-5%" y="-10%" width="110%" height="120%"><feMorphology operator="dilate" radius="1.272 0"/></filter><filter id="dl1_047" x="-5%" y="-10%" width="110%" height="120%"><feMorphology operator="dilate" radius="1.047 0"/></filter><filter id="dl1_117" x="-5%" y="-10%" width="110%" height="120%"><feMorphology operator="dilate" radius="1.117 0"/></filter><filter id="dl0_957" x="-5%" y="-10%" width="110%" height="120%"><feMorphology operator="dilate" radius="0.957 0"/></filter><filter id="dl0_457" x="-5%" y="-10%" width="110%" height="120%"><feMorphology operator="dilate" radius="0.457 0"/></filter></defs>
</svg>
</body></html>
